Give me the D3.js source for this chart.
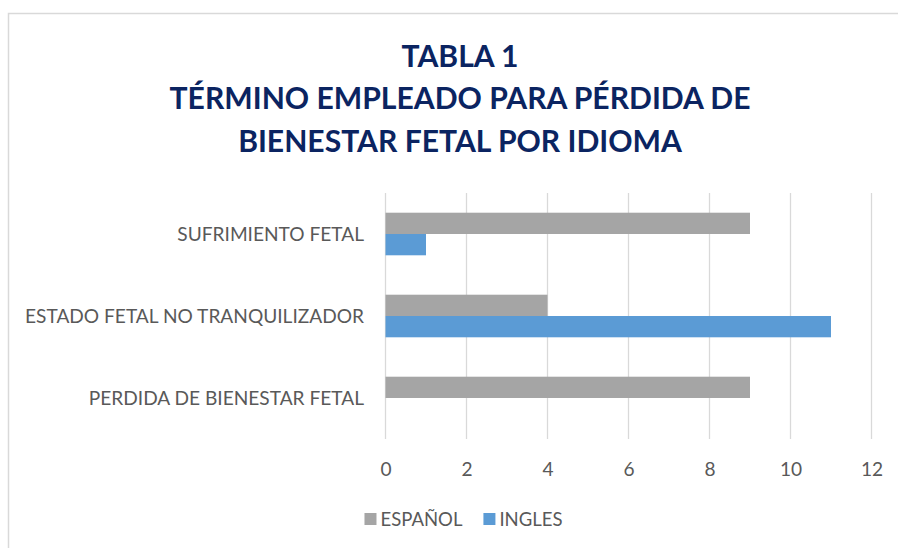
<!DOCTYPE html>
<html>
<head>
<meta charset="utf-8">
<script src="https://cdn.jsdelivr.net/npm/d3@7"></script>
<style>
  html, body { margin: 0; padding: 0; background: #fff; }
  svg { display: block; }
</style>
</head>
<body>
<svg id="chart" width="898" height="548"></svg>
<script>
// ---- data ----
const titleLines = ["TABLA 1", "TÉRMINO EMPLEADO PARA PÉRDIDA DE", "BIENESTAR FETAL POR IDIOMA"];
const categories = ["SUFRIMIENTO FETAL", "ESTADO FETAL NO TRANQUILIZADOR", "PERDIDA DE BIENESTAR FETAL"];
const seriesNames = ["ESPAÑOL", "INGLES"];
const espanol = [9, 4, 9];
const ingles = [1, 11, 0];
const xTicks = [0, 2, 4, 6, 8, 10, 12];
const colors = ["#A5A5A5", "#5B9BD5"];

const seriesValues = [espanol, ingles];
const rows = categories.map((c, i) => ({cat: c, vals: seriesNames.map((s, j) => ({s, v: seriesValues[j][i], j}))}));

const svg = d3.select("#chart");
const FONT = "Lato, 'Open Sans', 'DejaVu Sans', sans-serif";
const textGray = "#595959";

// chart area border
svg.append("rect").attr("x", 8.5).attr("y", 13.5).attr("width", 900).attr("height", 560)
  .attr("fill", "#fff").attr("stroke", "#D9D9D9").attr("stroke-width", 1.5);

function fitSize(text, weight, target) {
  const t = svg.append("text").attr("font-family", FONT).attr("font-weight", weight)
    .attr("font-size", 100).text(text);
  const w = t.node().getComputedTextLength();
  t.remove();
  return 100 * target / w;
}

// title
const titleSize = fitSize(titleLines[1], "bold", 581);
const titleBase = [66.7, 109.3, 152];
svg.append("g").selectAll("text").data(titleLines).join("text")
  .attr("x", 460).attr("y", (d, i) => titleBase[i])
  .attr("text-anchor", "middle").attr("font-family", FONT).attr("font-weight", "bold")
  .attr("font-size", titleSize).attr("fill", "#0B2461").text(d => d);

// scales
const x = d3.scaleLinear().domain([0, 12]).range([385.5, 871.5]);
const y0 = d3.scaleBand().domain(categories).range([193, 439]).padding(0);
const y1 = d3.scaleBand().domain(seriesNames).range([0, y0.bandwidth()]).paddingInner(0).paddingOuter(0.925);

// gridlines
svg.append("g").selectAll("line").data(xTicks).join("line")
  .attr("x1", d => x(d)).attr("x2", d => x(d))
  .attr("y1", 193).attr("y2", 439)
  .attr("stroke", "#D9D9D9").attr("stroke-width", 1.3);

// bars
const g = svg.append("g").selectAll("g").data(rows).join("g")
  .attr("transform", d => `translate(0,${y0(d.cat)})`);
g.selectAll("rect").data(d => d.vals).join("rect")
  .attr("x", x(0)).attr("y", d => y1(d.s))
  .attr("width", d => x(d.v) - x(0)).attr("height", y1.bandwidth())
  .attr("fill", d => colors[d.j]);

// category labels
const labelSize = fitSize(categories[1], "normal", 339);
svg.append("g").selectAll("text").data(categories).join("text")
  .attr("x", 364).attr("y", d => y0(d) + y0.bandwidth() / 2)
  .attr("dy", "0.36em")
  .attr("text-anchor", "end").attr("font-family", FONT).attr("font-size", labelSize)
  .attr("fill", textGray).text(d => d);

// x-axis via d3 axis
const axis = d3.axisBottom(x).tickValues(xTicks).tickSize(0).tickPadding(0);
const ax = svg.append("g").attr("transform", "translate(0,458)").call(axis);
ax.select(".domain").remove();
ax.selectAll("text").attr("font-family", FONT).attr("font-size", labelSize)
  .attr("fill", textGray).attr("dy", "0.95em");

// legend
const legSize = labelSize * 0.97;
const leg = svg.append("g");
let lx = 0;
const items = [];
seriesNames.forEach((s, i) => {
  const it = leg.append("g").attr("transform", `translate(${lx},0)`);
  it.append("rect").attr("x", 0).attr("y", -6).attr("width", 12).attr("height", 12).attr("fill", colors[i]);
  const t = it.append("text").attr("x", 16).attr("y", 0).attr("dy", "0.36em")
    .attr("font-family", FONT).attr("font-size", legSize).attr("fill", textGray).text(s);
  lx += 16 + t.node().getComputedTextLength() + 21;
});
const legW = lx - 21;
leg.attr("transform", `translate(${463.5 - legW / 2},519)`);
</script>
</body>
</html>
